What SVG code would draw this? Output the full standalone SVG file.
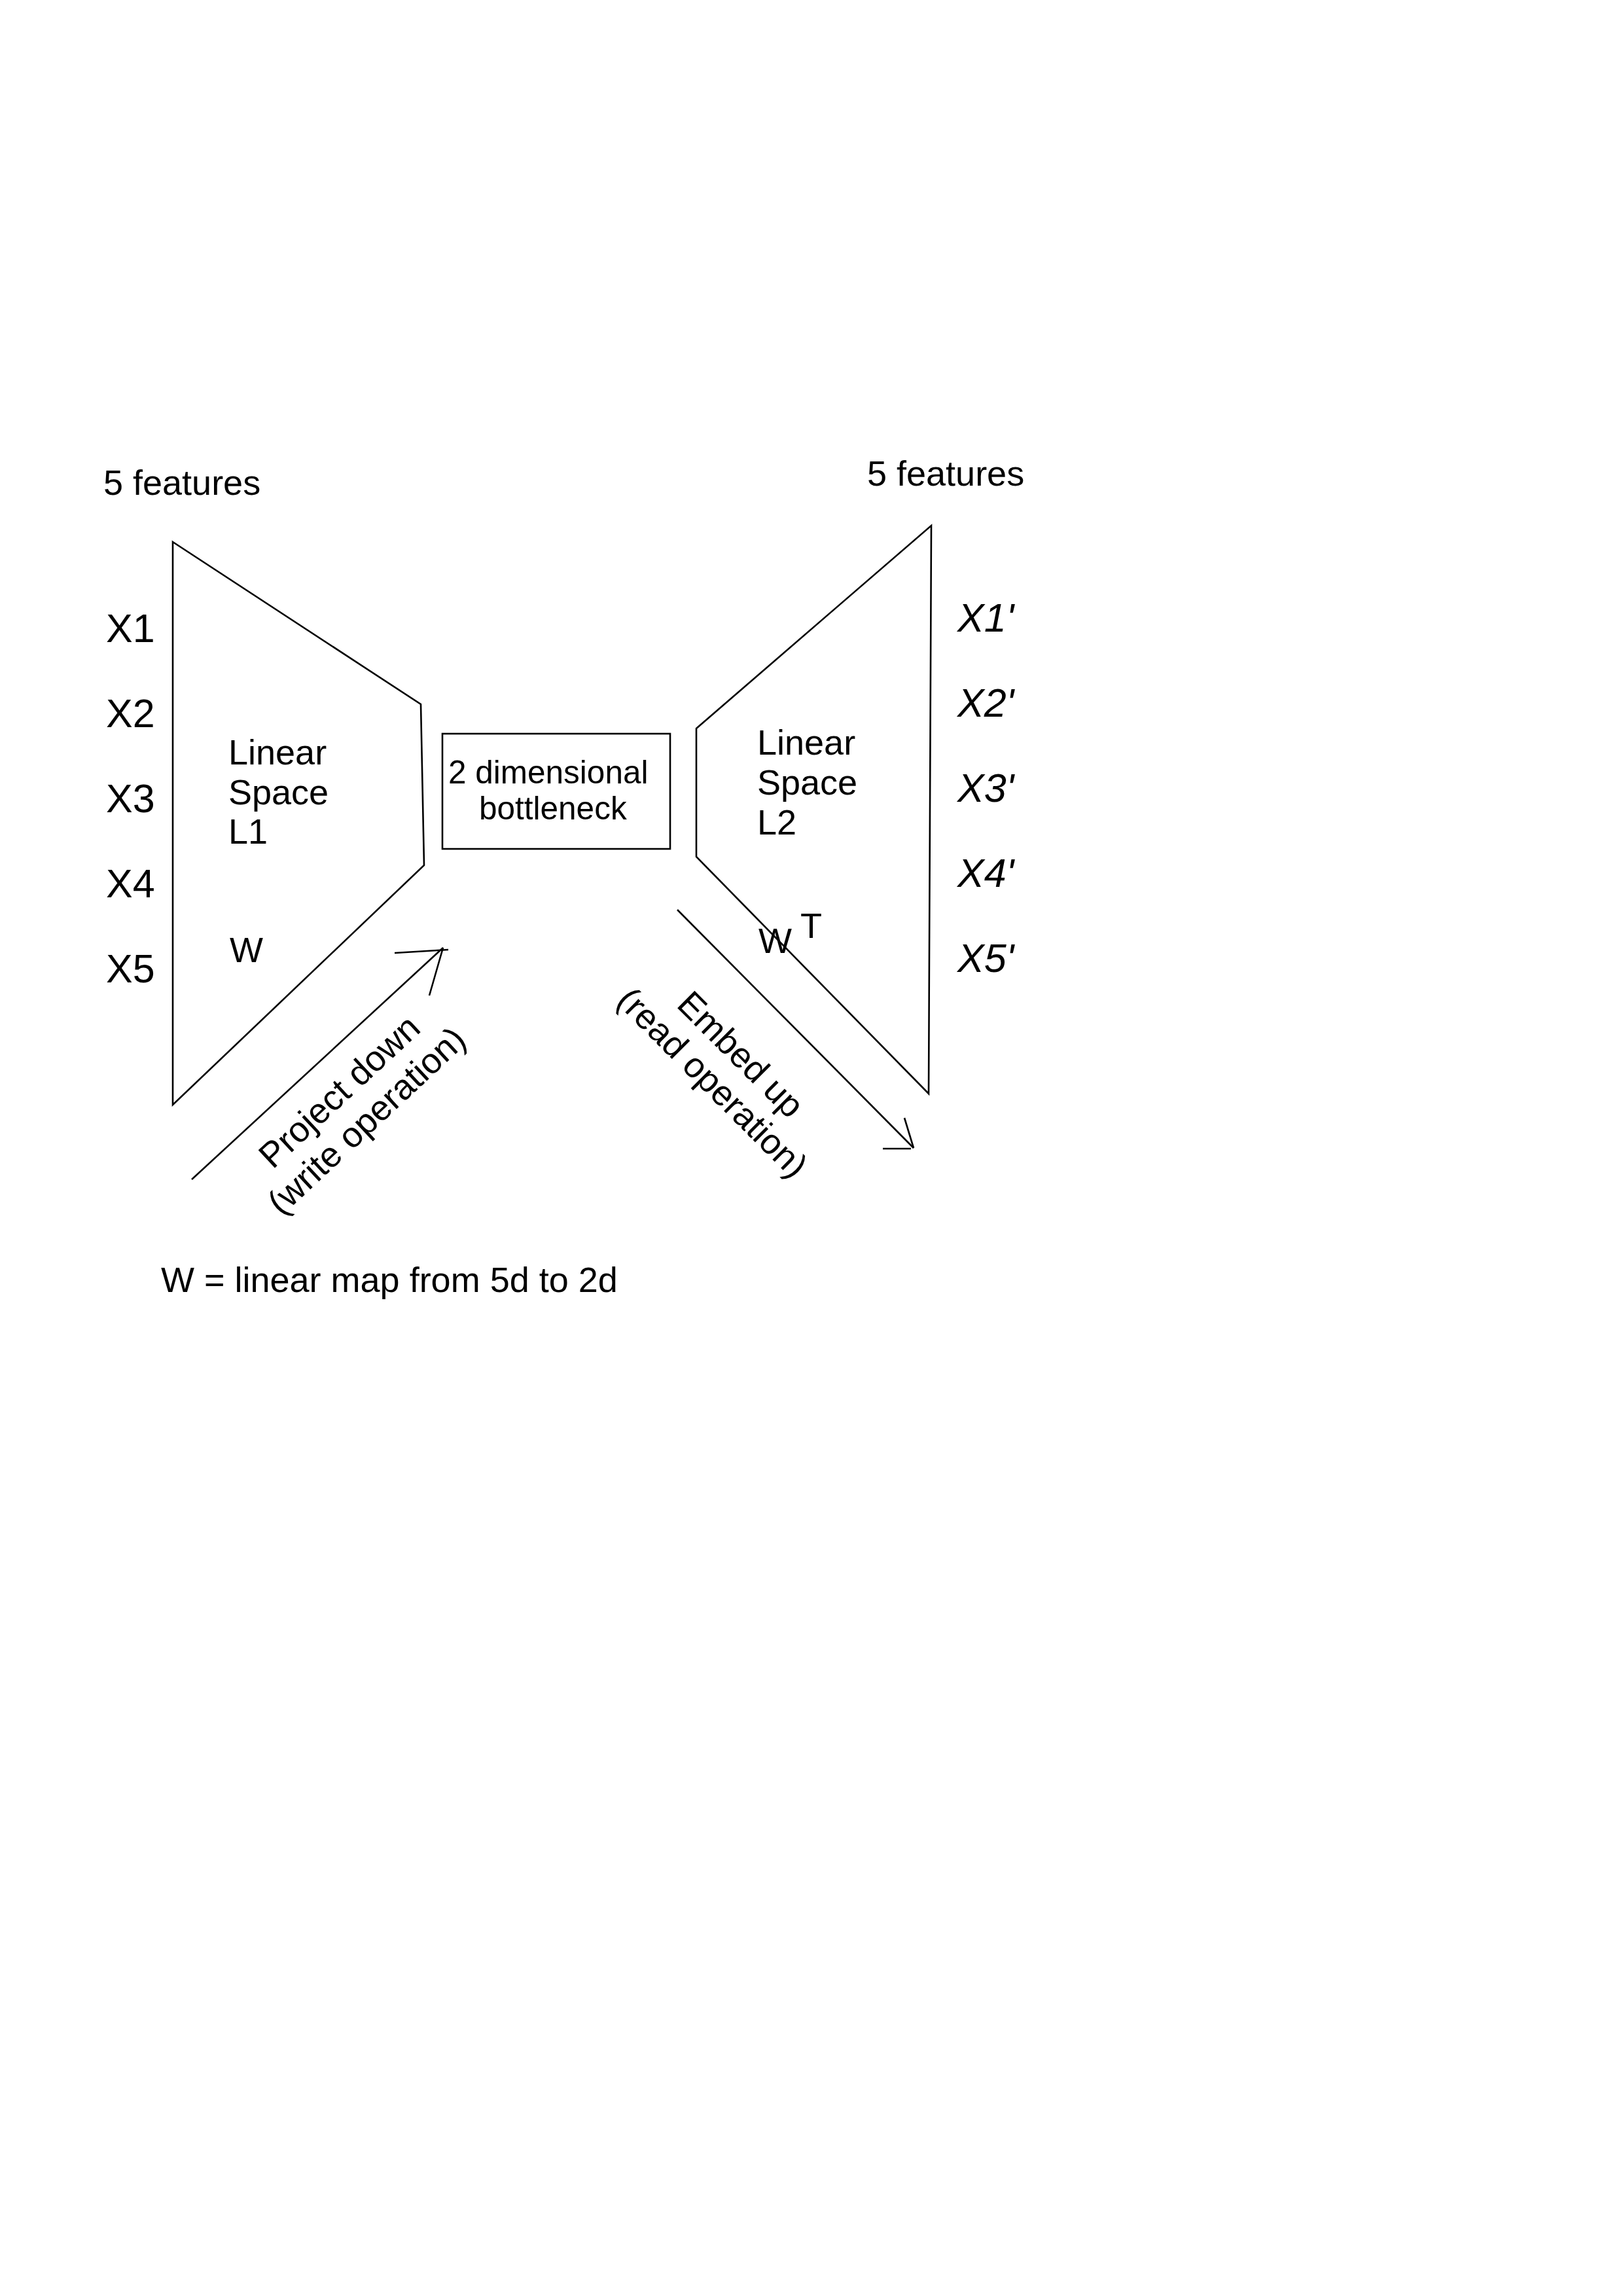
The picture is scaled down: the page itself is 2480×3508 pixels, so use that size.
<svg xmlns="http://www.w3.org/2000/svg" width="2480" height="3508" viewBox="0 0 2480 3508">
<style>
.ln{fill:none;stroke:#000;stroke-width:2.6;stroke-linejoin:miter}
.t{font-family:"Liberation Sans",Arial,sans-serif;fill:#000;font-size:54px}
.x{font-size:61px}
.i{font-style:italic}
.b{font-size:49.5px}
.c{text-anchor:middle}
</style>
<rect width="2480" height="3508" fill="#fff"/>
<g id="features-left"><text class="t" x="158" y="756">5 features</text></g>
<g id="features-right"><text class="t" x="1325" y="742">5 features</text></g>
<g id="inputs">
<text class="t x" x="162" y="981">X1</text>
<text class="t x" x="162" y="1111">X2</text>
<text class="t x" x="162" y="1241">X3</text>
<text class="t x" x="162" y="1371">X4</text>
<text class="t x" x="162" y="1501">X5</text>
</g>
<g id="outputs">
<text class="t x i" x="1463" y="965">X1'</text>
<text class="t x i" x="1463" y="1095">X2'</text>
<text class="t x i" x="1463" y="1225">X3'</text>
<text class="t x i" x="1463" y="1355">X4'</text>
<text class="t x i" x="1463" y="1485">X5'</text>
</g>
<g id="space-L1">
<polygon class="ln" points="264,828 643,1076 648,1322 264,1688"/>
<text class="t" x="349" y="1168">Linear</text>
<text class="t" x="349" y="1229">Space</text>
<text class="t" x="349" y="1289">L1</text>
<text class="t" x="351" y="1470">W</text>
</g>
<g id="bottleneck">
<rect class="ln" x="676" y="1121" width="348" height="176"/>
<text class="t b" x="685" y="1197">2 dimensional</text>
<text class="t b" x="732" y="1252">bottleneck</text>
</g>
<g id="space-L2">
<polygon class="ln" points="1064,1113 1423,803 1419,1671 1064,1309"/>
<text class="t" x="1157" y="1153">Linear</text>
<text class="t" x="1157" y="1214">Space</text>
<text class="t" x="1157" y="1275">L2</text>
<text class="t" x="1159" y="1456">W<tspan x="1223" y="1433">T</tspan></text>
</g>
<g id="connectors">
<g id="project-down">
<line class="ln" x1="293" y1="1802" x2="677" y2="1448"/>
<line class="ln" x1="603" y1="1456" x2="685" y2="1451"/>
<line class="ln" x1="677" y1="1448" x2="656" y2="1521"/>
<g transform="translate(531,1681) rotate(-43)">
<text class="t c" x="0" y="0">Project down</text>
<text class="t c" x="0" y="61">(write operation)</text>
</g>
</g>
<g id="embed-up">
<line class="ln" x1="1035" y1="1390" x2="1396" y2="1754"/>
<line class="ln" x1="1349" y1="1755" x2="1392" y2="1755"/>
<line class="ln" x1="1382" y1="1708" x2="1396" y2="1754"/>
<g transform="translate(1119,1624) rotate(45)">
<text class="t c" x="0" y="0">Embed up</text>
<text class="t c" x="0" y="61">(read operation)</text>
</g>
</g>
</g>
<g id="note"><text class="t" x="246" y="1974" style="font-size:54px">W = linear map from 5d to 2d</text></g>
</svg>
